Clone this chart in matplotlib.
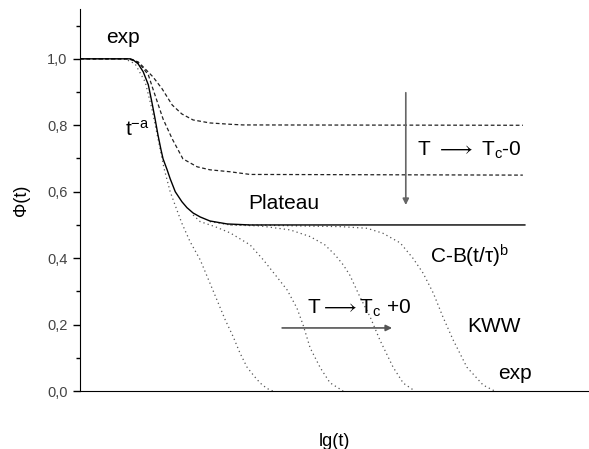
import numpy as np
import matplotlib
matplotlib.use('Agg')
import matplotlib.pyplot as plt
from matplotlib.ticker import MultipleLocator, FuncFormatter

plt.rcParams['font.family'] = ['Liberation Sans', 'DejaVu Sans']
plt.rcParams['mathtext.fontset'] = 'custom'
plt.rcParams['mathtext.rm'] = 'Liberation Sans'
plt.rcParams['mathtext.it'] = 'Liberation Sans'

# x in arbitrary lg(t) units
solid_x = [0, 0.98, 1.04, 1.14, 1.24, 1.34, 1.41, 1.47, 1.53, 1.59, 1.63, 1.71, 1.77,
           1.87, 2.00, 2.10, 2.22, 2.36, 2.55, 2.89, 3.34, 8.74]
solid_y = [1.0, 1.0, 0.997, 0.985, 0.961, 0.922, 0.87, 0.822, 0.771, 0.726, 0.699, 0.666,
           0.639, 0.60, 0.57, 0.552, 0.536, 0.524, 0.512, 0.503, 0.5, 0.5]

dash08_x = [0, 0.98, 1.18, 1.43, 1.61, 1.81, 2.00, 2.22, 2.55, 2.95, 3.20, 8.70]
dash08_y = [1.0, 1.0, 0.985, 0.946, 0.91, 0.861, 0.834, 0.816, 0.807, 0.803, 0.801, 0.8]

dash065_x = [0, 0.94, 1.14, 1.34, 1.43, 1.63, 1.81, 2.02, 2.30, 2.55, 2.95, 3.34, 8.70]
dash065_y = [1.0, 1.0, 0.991, 0.952, 0.91, 0.819, 0.759, 0.699, 0.675, 0.666, 0.66, 0.652, 0.65]

dot1_x = [0, 0.88, 1.08, 1.28, 1.41, 1.53, 1.65, 1.77, 1.89, 2.00, 2.16, 2.36, 2.51,
          2.69, 2.85, 3.01, 3.14, 3.28, 3.42, 3.54, 3.67, 3.79]
dot1_y = [1.0, 1.0, 0.985, 0.93, 0.85, 0.76, 0.67, 0.60, 0.55, 0.505, 0.45, 0.395, 0.34,
          0.274, 0.215, 0.163, 0.115, 0.072, 0.045, 0.024, 0.008, 0.0]

dot2_x = [2.22, 2.36, 2.65, 2.95, 3.34, 3.60, 3.87, 4.07, 4.26, 4.38, 4.52, 4.72, 4.91, 5.17]
dot2_y = [0.53, 0.51, 0.495, 0.476, 0.44, 0.395, 0.343, 0.304, 0.25, 0.20, 0.13, 0.07, 0.025, 0.0]

dot3_x = [2.55, 2.95, 3.54, 4.13, 4.52, 4.81, 5.01, 5.17, 5.30, 5.50, 5.70, 5.89, 6.15, 6.35, 6.58]
dot3_y = [0.51, 0.5, 0.497, 0.485, 0.465, 0.44, 0.41, 0.38, 0.349, 0.283, 0.223, 0.154, 0.072, 0.024, 0.0]

dot4_x = [2.95, 3.34, 4.32, 5.11, 5.64, 5.95, 6.29, 6.54, 6.74, 6.94, 7.13, 7.33, 7.60, 7.92, 8.15]
dot4_y = [0.5, 0.5, 0.497, 0.495, 0.49, 0.475, 0.446, 0.40, 0.355, 0.295, 0.223, 0.154, 0.072, 0.018, 0.0]


fig = plt.figure(figsize=(5.89, 4.49), dpi=100)
ax = fig.add_axes([0.136, 0.129, 0.864, 0.851])

dots = dict(color='#555555', lw=0.9, ls=(0, (1, 2.5)))
dash = dict(color='#222222', lw=0.9, ls=(0, (3, 2)))

for xs, ys in [(dot1_x, dot1_y), (dot2_x, dot2_y), (dot3_x, dot3_y), (dot4_x, dot4_y)]:
    ax.plot(xs, ys, **dots)
ax.plot(dash08_x, dash08_y, **dash)
ax.plot(dash065_x, dash065_y, **dash)
ax.plot(solid_x, solid_y, color='black', lw=1.0)

ax.annotate('', xy=(6.4, 0.56), xytext=(6.4, 0.898),
            arrowprops=dict(arrowstyle='-|>', color='#666666', lw=1.2,
                            mutation_scale=9, shrinkA=0, shrinkB=0))
ax.annotate('', xy=(6.13, 0.19), xytext=(3.97, 0.19),
            arrowprops=dict(arrowstyle='-|>', color='#555555', lw=1.2,
                            mutation_scale=9, shrinkA=0, shrinkB=0))

fs = 15
ax.text(0.85, 1.063, 'exp', fontsize=fs, ha='center', va='center')
ax.text(1.12, 0.786, r't$^{\mathregular{-a}}$', fontsize=fs, ha='center', va='center')
ax.text(4.0, 0.566, 'Plateau', fontsize=fs, ha='center', va='center')
ax.text(6.62, 0.726, r'T $\longrightarrow$ T$_{\mathregular{c}}$-0', fontsize=fs,
        ha='left', va='center')
ax.text(6.88, 0.404, r'C-B(t/τ)$^{\mathregular{b}}$', fontsize=fs, ha='left', va='center')
ax.text(4.46, 0.25, r'T$\longrightarrow$T$_{\mathregular{c}}$ +0', fontsize=fs,
        ha='left', va='center')
ax.text(7.6, 0.193, 'KWW', fontsize=fs, ha='left', va='center')
ax.text(8.21, 0.054, 'exp', fontsize=fs, ha='left', va='center')

ax.set_xlim(0, 10)
ax.set_ylim(0, 1.15)
ax.set_xticks([])
ax.yaxis.set_major_locator(MultipleLocator(0.2))
ax.yaxis.set_minor_locator(MultipleLocator(0.1))
ax.yaxis.set_major_formatter(FuncFormatter(lambda v, p: f'{v:.1f}'.replace('.', ',')))
ax.tick_params(axis='y', which='major', length=5, width=1, labelsize=10.5,
               labelcolor='#444444', pad=4)
ax.tick_params(axis='y', which='minor', length=3, width=1)
ax.spines['top'].set_visible(False)
ax.spines['right'].set_visible(False)
ax.set_xlabel('lg(t)', fontsize=13, labelpad=30)
ax.set_ylabel('Φ(t)', fontsize=13, labelpad=12)

plt.savefig('out.png', dpi=100)
